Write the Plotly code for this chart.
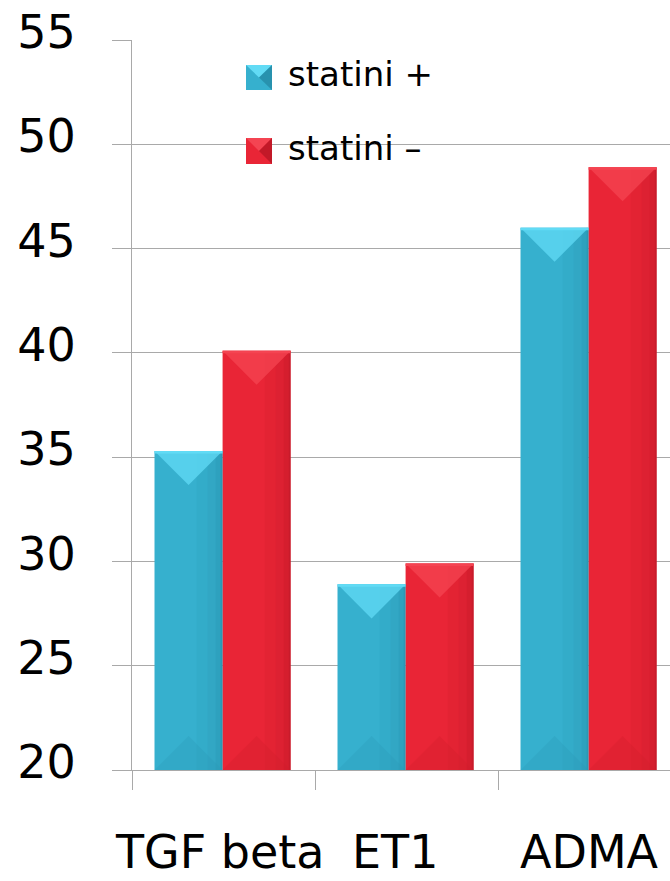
import plotly.graph_objects as go

# Data
categories = ["TGF beta", "ET1", "ADMA"]
statini_plus = [35.3, 28.9, 46.0]
statini_minus = [40.1, 29.9, 48.9]
series_names = ["statini +", "statini \u2013"]
y_ticks = [20, 25, 30, 35, 40, 45, 50, 55]

# Geometry / style
W, H = 670, 881
M_L, M_R, M_T, M_B = 132, 0, 40, 111
PLOT_W = W - M_L - M_R
PLOT_H = H - M_T - M_B
CAT_PX = 183.0
X_RANGE = [-0.5, -0.5 + PLOT_W / CAT_PX]
Y_RANGE = [20, 55]
PX_PER_Y = PLOT_H / (Y_RANGE[1] - Y_RANGE[0])

BAR_W = 0.372
GROUP_SHIFT = -0.005
FONT = "DejaVu Sans"
GRID = "#a9a9a9"

palettes = [
    dict(base="#36b0ce", top="#62dbf5", dark="#1f7f99", bottom="#2a98b5"),
    dict(base="#e92536", top="#f44452", dark="#a8121f", bottom="#cf1d2c"),
]
series = [statini_plus, statini_minus]


def px2paper(px, py):
    return (px - M_L) / PLOT_W, (H - M_B - py) / PLOT_H


fig = go.Figure()

bar_centers = []
for s, (vals, pal, name) in enumerate(zip(series, palettes, series_names)):
    xs = [i + GROUP_SHIFT + (s - 0.5) * BAR_W for i in range(len(categories))]
    bar_centers.append(xs)
    fig.add_trace(go.Bar(
        x=xs, y=[v - Y_RANGE[0] for v in vals], base=Y_RANGE[0], width=BAR_W,
        marker=dict(color=pal["base"], line=dict(width=0)),
        name=name, showlegend=False, hoverinfo="skip",
    ))


def poly(xs, ys, color, opacity=1.0):
    fig.add_trace(go.Scatter(
        x=xs + [xs[0]], y=ys + [ys[0]], mode="lines", fill="toself",
        fillcolor=color, line=dict(width=0), opacity=opacity,
        showlegend=False, hoverinfo="skip",
    ))


# Bevel shading drawn over each bar, derived from its value
bevel_depth = (BAR_W / 2) * CAT_PX / PX_PER_Y
for s, (vals, pal) in enumerate(zip(series, palettes)):
    for xc, v in zip(bar_centers[s], vals):
        xl, xr = xc - BAR_W / 2, xc + BAR_W / 2
        b = Y_RANGE[0]
        # horizontal shading toward the right edge
        for f0, f1, a in [(0.62, 0.78, 0.08), (0.78, 0.9, 0.18), (0.9, 0.97, 0.3), (0.97, 1.0, 0.5)]:
            x0, x1 = xl + f0 * BAR_W, xl + f1 * BAR_W
            poly([x0, x1, x1, x0], [b, b, v, v], pal["dark"], a)
        # lower bevel
        poly([xl, xr, xc], [b, b, b + bevel_depth], pal["bottom"], 0.3)
        # upper bevel
        poly([xl, xr, xc], [v, v, v - bevel_depth], pal["top"], 0.75)
        # thin highlight at the top edge
        poly([xl, xr, xr, xl], [v - 0.12, v - 0.12, v, v], pal["top"], 1.0)

# Category labels
label_px = [220, 395, 589]
annotations = []
for lab, cx in zip(categories, label_px):
    xp, yp = px2paper(cx, 881)
    annotations.append(dict(
        text=lab, x=xp, y=yp, xref="paper", yref="paper",
        xanchor="center", yanchor="bottom", showarrow=False,
        font=dict(family=FONT, size=46, color="black"),
    ))

# Legend swatches and labels
shapes = []
for (sx0, sy0, sx1, sy1), pal, name in zip(
    [(246, 65, 272, 90), (246, 138, 272, 164)], palettes, series_names
):
    x0, y0 = px2paper(sx0, sy1)
    x1, y1 = px2paper(sx1, sy0)
    xm, ym = (x0 + x1) / 2, (y0 + y1) / 2
    shapes.append(dict(type="rect", xref="paper", yref="paper",
                       x0=x0, y0=y0, x1=x1, y1=y1,
                       fillcolor=pal["base"], line=dict(width=0), layer="above"))
    shapes.append(dict(type="path", xref="paper", yref="paper",
                       path=f"M {x0} {y1} L {x1} {y1} L {xm} {ym} Z",
                       fillcolor=pal["top"], line=dict(width=0), layer="above"))
    shapes.append(dict(type="path", xref="paper", yref="paper",
                       path=f"M {x1} {y1} L {x1} {y0} L {xm} {ym} Z",
                       fillcolor=pal["dark"], opacity=0.6, line=dict(width=0), layer="above"))
    tx, ty = px2paper(286, (sy0 + sy1) / 2 - 3)
    annotations.append(dict(
        text=name, x=tx, y=ty, xref="paper", yref="paper",
        xanchor="left", yanchor="middle", showarrow=False,
        font=dict(family=FONT, size=34, color="black"),
    ))

fig.update_layout(
    width=W, height=H,
    margin=dict(l=M_L, r=M_R, t=M_T, b=M_B, pad=0),
    paper_bgcolor="white", plot_bgcolor="white",
    barmode="overlay",
    showlegend=False,
    annotations=annotations,
    shapes=shapes,
    xaxis=dict(
        range=X_RANGE, showgrid=False, zeroline=False,
        showline=True, linecolor=GRID, linewidth=1,
        tickvals=[-0.5, 0.5, 1.5, 2.5], showticklabels=False,
        ticks="outside", ticklen=19, tickcolor=GRID, tickwidth=1,
    ),
    yaxis=dict(
        range=Y_RANGE, tickvals=y_ticks, ticktext=[str(t) for t in y_ticks],
        showgrid=True, gridcolor=GRID, gridwidth=1, zeroline=False,
        showline=True, linecolor=GRID, linewidth=1,
        ticks="outside", ticklen=19, tickcolor=GRID, tickwidth=1,
        tickfont=dict(family=FONT, size=46, color="black"),
        ticklabelstandoff=27, ticklabelshift=-8,
    ),
)

fig.write_html("out.html")
